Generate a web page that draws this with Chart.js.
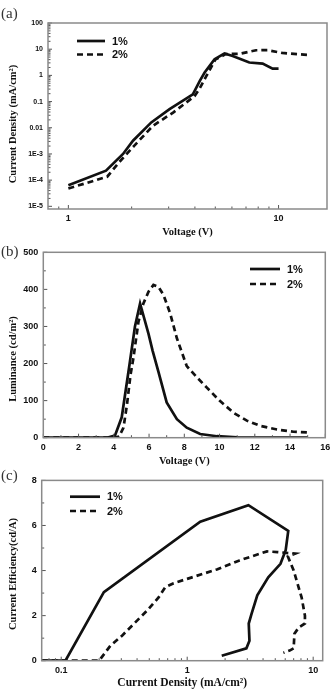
<!DOCTYPE html>
<html><head><meta charset="utf-8">
<script src="https://cdn.jsdelivr.net/npm/chart.js@4.4.1/dist/chart.umd.min.js"></script>
<style>
html,body{margin:0;padding:0;background:#fff;width:336px;height:691px;overflow:hidden;position:relative}
canvas{position:absolute;left:0}
.lbl{position:absolute;font-family:"Liberation Serif","DejaVu Serif",serif;font-size:15px;color:#333;line-height:1}
</style></head><body>
<canvas id="ca" width="336" height="240" style="top:0"></canvas>
<canvas id="cb" width="336" height="230" style="top:240px"></canvas>
<canvas id="cc" width="336" height="221" style="top:470px"></canvas>
<div class="lbl" style="left:1px;top:6px">(a)</div>
<div class="lbl" style="left:1px;top:244px">(b)</div>
<div class="lbl" style="left:1px;top:468px">(c)</div>
<script>
// ---------- DATA ----------
const seriesNames = ['1%', '2%'];

// (a) Current density vs voltage
const aVoltage1 = [1.0, 1.51, 1.82, 2.03, 2.48, 3.03, 3.91, 4.22, 4.45, 4.96, 5.53, 6.05, 7.26, 8.40, 9.37, 10.0];
const aCurrent1 = [6.4e-5, 2.3e-4, 1.0e-3, 3.2e-3, 0.016, 0.051, 0.19, 0.62, 1.28, 4.15, 6.8, 5.5, 3.1, 2.8, 1.8, 1.8];
const aVoltage2 = [1.0, 1.53, 1.75, 2.05, 2.53, 3.15, 3.98, 4.2, 4.53, 5.0, 5.6, 6.55, 7.81, 8.87, 10.4, 14.2];
const aCurrent2 = [4.8e-5, 1.35e-4, 5e-4, 2.0e-3, 0.012, 0.038, 0.16, 0.3, 0.93, 4.0, 6.5, 6.7, 9.1, 9.2, 7.2, 5.9];
const aXTickValues = [1, 10];
const aXTickLabels = ['1', '10'];
const aYTickValues = [1e-5, 1e-4, 1e-3, 0.01, 0.1, 1, 10, 100];
const aYTickLabels = ['1E-5', '1E-4', '1E-3', '0.01', '0.1', '1', '10', '100'];

// (b) Luminance vs voltage
const bVoltage1 = [0, 1, 2, 3, 3.6, 4.07, 4.45, 4.9, 5.2, 5.49, 5.97, 6.2, 6.53, 7.0, 7.58, 8.14, 8.9, 9.85, 11, 13, 15];
const bLum1 = [0, 0, 0, 0, 0, 6, 55, 200, 300, 362, 280, 235, 178, 95, 50, 27, 10, 4, 1, 0, 0];
const bVoltage2 = [0, 2, 4, 4.3, 4.55, 4.75, 4.95, 5.11, 5.4, 5.68, 5.97, 6.25, 6.53, 6.82, 7.2, 7.58, 8.14, 8.71, 9.28, 10, 10.8, 11.55, 12.3, 13.26, 14.2, 15];
const bLum2 = [0, 0, 0, 3, 27, 90, 170, 214, 313, 362, 394, 412, 407, 385, 335, 268, 193, 163, 135, 100, 67, 46, 32, 22, 16, 14];
const bXTickLabels = ['0', '2', '4', '6', '8', '10', '12', '14', '16'];
const bYTickLabels = ['0', '100', '200', '300', '400', '500'];

// (c) Current efficiency vs current density
const cCurrent1 = [0.07, 0.108, 0.218, 1.27, 3.06, 6.34, 6.05, 5.5, 4.4, 3.6, 3.25, 3.08, 3.12, 2.95, 1.88];
const cEff1 = [0, 0, 3.04, 6.17, 6.9, 5.76, 4.9, 4.3, 3.7, 2.9, 2.1, 1.65, 0.88, 0.55, 0.22];
const cCurrent2 = [0.07, 0.2, 0.246, 0.304, 0.376, 0.48, 0.593, 0.67, 0.78, 1.0, 1.72, 2.6, 4.3, 5.2, 7.2, 6.3, 7.0, 8.1, 8.6, 8.6, 7.7, 7.1, 7.0, 6.5, 5.8];
const cEff2 = [0, 0, 0.67, 1.11, 1.63, 2.22, 2.81, 3.26, 3.44, 3.63, 4.05, 4.45, 4.85, 4.82, 4.75, 4.62, 4.0, 2.8, 2.0, 1.65, 1.48, 1.2, 0.55, 0.45, 0.35];
const cXTickValues = [0.1, 1, 10];
const cXTickLabels = ['0.1', '1', '10'];
const cYTickLabels = ['0', '2', '4', '6', '8'];

// ---------- HELPERS ----------
const pts = (xs, ys) => xs.map((x, i) => ({x: x, y: ys[i]}));
const SANS = '"Liberation Sans", Arial, sans-serif';
const SERIF = '"Liberation Serif", "Times New Roman", serif';
const TICKFONT = {family: SANS, weight: 'bold', size: 9};
const TITLEFONT = {family: SERIF, weight: 'bold', size: 10.5};
const INK = '#111';
const FRAME = '#8a8a8a';

function logTicks(min, max) {
  const out = [];
  for (let e = Math.floor(Math.log10(min)); e <= Math.ceil(Math.log10(max)); e++) {
    for (let m = 1; m <= 9; m++) {
      const v = parseFloat((m * Math.pow(10, e)).toPrecision(6));
      if (v >= min * 0.999 && v <= max * 1.001) out.push({value: v});
    }
  }
  return out;
}

function datasets(d1, d2) {
  return [
    {label: seriesNames[0], data: d1, borderColor: INK, borderWidth: 2.7, pointRadius: 0, fill: false, tension: 0},
    {label: seriesNames[1], data: d2, borderColor: INK, borderWidth: 2.7, borderDash: [6, 4], pointRadius: 0, fill: false, tension: 0}
  ];
}

const framePlugin = {
  id: 'frameLegend',
  afterDatasetsDraw(chart, args, o) {
    const {ctx, chartArea: a} = chart;
    ctx.save();
    // inward ticks
    ctx.strokeStyle = '#555';
    ctx.lineWidth = 1;
    ['x', 'y'].forEach(id => {
      const s = chart.scales[id];
      s.ticks.forEach(t => {
        const major = t.label !== '' && t.label !== undefined;
        const len = major ? 4 : 2.5;
        const p = s.getPixelForValue(t.value);
        ctx.beginPath();
        if (id === 'x') {
          if (p < a.left - 0.5 || p > a.right + 0.5) return;
          ctx.moveTo(p, a.bottom); ctx.lineTo(p, a.bottom - len);
        } else {
          if (p < a.top - 0.5 || p > a.bottom + 0.5) return;
          ctx.moveTo(a.left, p); ctx.lineTo(a.left + len, p);
        }
        ctx.stroke();
      });
    });
    // frame
    ctx.strokeStyle = FRAME;
    ctx.lineWidth = 1.5;
    ctx.strokeRect(a.left, a.top, a.right - a.left, a.bottom - a.top);
    // y-axis title (text from the scale's own title option)
    const yt = chart.scales.y.options.title;
    ctx.save();
    ctx.translate(o.yTitleX, o.yTitleY);
    ctx.rotate(-Math.PI / 2);
    ctx.fillStyle = INK;
    ctx.font = 'bold 10.5px ' + SERIF;
    ctx.textAlign = 'center';
    ctx.textBaseline = 'middle';
    ctx.fillText(yt.text, 0, 0);
    ctx.restore();
    // legend
    chart.data.datasets.forEach((ds, i) => {
      const y = o.y + i * o.gap;
      ctx.beginPath();
      ctx.setLineDash(ds.borderDash || []);
      ctx.lineWidth = ds.borderWidth;
      ctx.strokeStyle = ds.borderColor;
      ctx.moveTo(o.x, y); ctx.lineTo(o.x + o.len, y);
      ctx.stroke();
      ctx.setLineDash([]);
      ctx.fillStyle = INK;
      ctx.font = 'bold 11px ' + SANS;
      ctx.textBaseline = 'middle';
      ctx.textAlign = 'left';
      ctx.fillText(ds.label, o.x + o.len + 7, y + 0.5);
    });
    ctx.restore();
  }
};

function makeChart(id, cfg) {
  return new Chart(document.getElementById(id), {
    type: 'line',
    data: {datasets: cfg.datasets},
    plugins: [framePlugin],
    options: {
      responsive: false, animation: false, devicePixelRatio: 1,
      layout: {padding: {top: cfg.top, right: cfg.right, left: 0, bottom: 0}},
      plugins: {legend: {display: false}, tooltip: {enabled: false}, frameLegend: cfg.legend},
      scales: {
        x: Object.assign({
          position: 'bottom',
          grid: {display: false, drawTicks: false},
          border: {display: false},
          title: {display: true, text: cfg.xTitle, font: cfg.xTitleFont || TITLEFONT, color: INK, padding: {top: 0, bottom: cfg.xTitlePad}},
          afterFit: s => { s.height = cfg.xHeight; }
        }, cfg.x),
        y: Object.assign({
          position: 'left',
          grid: {display: false, drawTicks: false},
          border: {display: false},
          title: {display: false, text: cfg.yTitle},
          afterFit: s => { s.width = cfg.yWidth; }
        }, cfg.y)
      }
    }
  });
}

// (a)
makeChart('ca', {
  datasets: datasets(pts(aVoltage1, aCurrent1), pts(aVoltage2, aCurrent2)),
  top: 23, right: 9, xHeight: 31, yWidth: 48, xTitlePad: 1,
  xTitle: 'Voltage (V)', yTitle: 'Current Density (mA/cm²)',
  legend: {x: 77, y: 41, gap: 13.5, len: 28, yTitleX: 13, yTitleY: 124},
  x: {type: 'logarithmic', min: 0.8, max: 17,
      afterBuildTicks: s => { s.ticks = logTicks(0.9, 10); },
      ticks: {font: TICKFONT, color: INK, padding: 4, autoSkip: false, maxRotation: 0,
        callback: v => { const i = aXTickValues.indexOf(v); return i >= 0 ? aXTickLabels[i] : ''; }}},
  y: {type: 'logarithmic', min: 7.9e-6, max: 100,
      afterBuildTicks: s => { s.ticks = logTicks(1e-5, 100); },
      ticks: {font: Object.assign({}, TICKFONT, {size: 7}), color: INK, padding: 5, autoSkip: false,
        callback: v => { const i = aYTickValues.indexOf(v); return i >= 0 ? aYTickLabels[i] : ''; }}}
});

// (b)
makeChart('cb', {
  datasets: datasets(pts(bVoltage1, bLum1), pts(bVoltage2, bLum2)),
  top: 12.3, right: 10.7, xHeight: 32.3, yWidth: 43.3, xTitlePad: 2,
  xTitle: 'Voltage (V)', yTitle: 'Luminance (cd/m²)',
  legend: {x: 250, y: 29, gap: 15, len: 30, yTitleX: 13, yTitleY: 119},
  x: {type: 'linear', min: 0, max: 16,
      ticks: {font: TICKFONT, color: INK, padding: 4, autoSkip: false, maxRotation: 0, stepSize: 1,
        callback: v => bXTickLabels.indexOf(String(v)) >= 0 ? String(v) : ''}},
  y: {type: 'linear', min: 0, max: 500,
      ticks: {font: TICKFONT, color: INK, padding: 5, autoSkip: false, stepSize: 50,
        callback: v => bYTickLabels.indexOf(String(v)) >= 0 ? String(v) : ''}}
});

// (c)
makeChart('cc', {
  datasets: datasets(pts(cCurrent1, cEff1), pts(cCurrent2, cEff2)),
  top: 9, right: 13.3, xHeight: 30.3, yWidth: 41.7, xTitlePad: 1,
  xTitle: 'Current Density (mA/cm²)', yTitle: 'Current Efficiency(cd/A)',
  xTitleFont: Object.assign({}, TITLEFONT, {size: 11.5}),
  legend: {x: 70, y: 26.7, gap: 14.3, len: 30, yTitleX: 13, yTitleY: 104},
  x: {type: 'logarithmic', min: 0.07, max: 11.9,
      afterBuildTicks: s => { s.ticks = logTicks(0.08, 10); },
      ticks: {font: TICKFONT, color: INK, padding: 4, autoSkip: false, maxRotation: 0,
        callback: v => { const i = cXTickValues.indexOf(v); return i >= 0 ? cXTickLabels[i] : ''; }}},
  y: {type: 'linear', min: 0, max: 8,
      ticks: {font: TICKFONT, color: INK, padding: 5, autoSkip: false, stepSize: 1,
        callback: v => cYTickLabels.indexOf(String(v)) >= 0 ? String(v) : ''}}
});
</script>
</body></html>
